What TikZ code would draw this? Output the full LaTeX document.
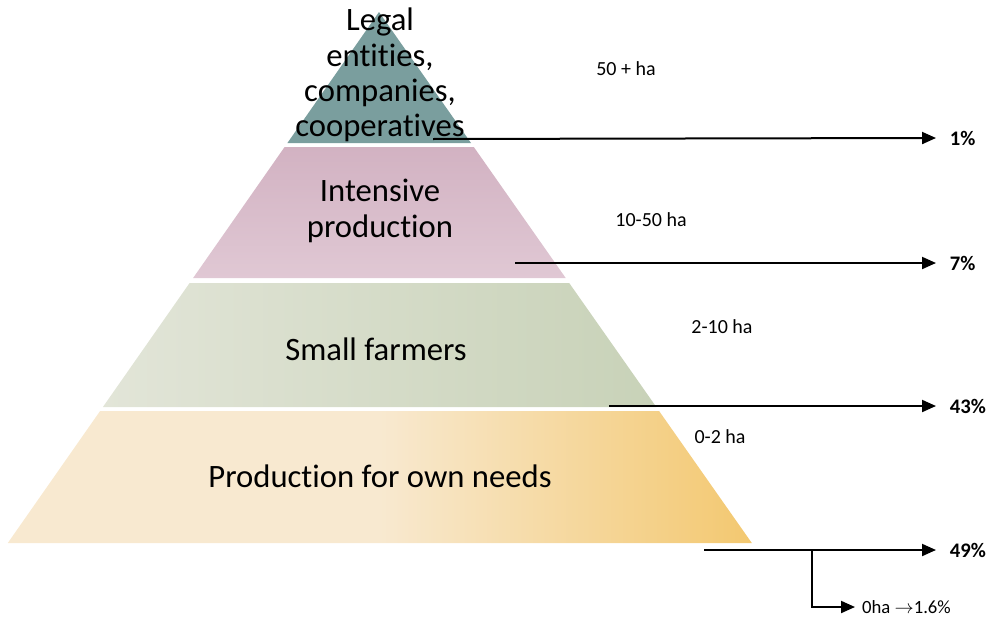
\documentclass[tikz,border=0pt]{standalone}
\usepackage{fontspec}
\setmainfont[Ligatures={NoCommon,NoContextual,NoRequired},Contextuals=NoAlternate]{Carlito}
\usetikzlibrary{arrows.meta}

\definecolor{topteal}{RGB}{122,158,158}
\definecolor{mauvelight}{RGB}{224,200,212}
\definecolor{mauvedeep}{RGB}{210,178,194}
\definecolor{sagelight}{RGB}{226,229,216}
\definecolor{sagedeep}{RGB}{200,210,184}
\definecolor{creamlight}{RGB}{248,233,208}
\definecolor{creamdeep}{RGB}{243,200,112}

\tikzset{every picture/.style={line width=0.75pt}}
\tikzset{
	layertext/.style={align=center, font=\fontsize{24.5}{26.5}\selectfont},
	rangetext/.style={font=\fontsize{15}{17}\selectfont},
	pcttext/.style={anchor=west, inner xsep=10pt, font=\fontsize{15.5}{17}\selectfont\bfseries},
	pctarrow/.style={line width=1.5pt, -{Triangle[length=10.5pt,width=9pt]}}
}

\begin{document}
\begin{tikzpicture}[x=0.75pt,y=0.75pt,yscale=-1,xscale=1]
	\useasboundingbox (0,0) rectangle (988,621);

	%Shape: Triangle [top layer]
	\fill [topteal] (379,12) -- (471,143) -- (287.4,143) -- cycle ;
	%Shape: Trapezoid [second layer]
	\shade [top color=mauvedeep, bottom color=mauvelight] (284.6,147) -- (473.8,147) -- (565.7,278) -- (193.1,278) -- cycle ;
	%Shape: Trapezoid [third layer]
	\shade [left color=sagelight, right color=sagedeep] (189.6,283) -- (569.2,283) -- (656.3,407) -- (102.9,407) -- cycle ;
	%Shape: Trapezoid [bottom layer]
	\shade [left color=creamlight, right color=creamdeep, middle color=creamlight] (100.1,411) -- (659.1,411) -- (751.8,543) -- (7.8,543) -- cycle ;

	% Text Node
	\node [layertext] (legal) at (380,75) {Legal\\entities,\\companies,\\cooperatives};
	% Text Node
	\node [layertext] (intensive) at (380,211) {Intensive\\production};
	% Text Node
	\node [layertext] (small) at (376,349) {Small farmers};
	% Text Node
	\node [layertext] (ownneeds) at (380,476) {Production for own needs};

	% Text Node
	\node [rangetext] (r1) at (626,69) {50 + ha};
	% Text Node
	\node [rangetext] (r2) at (651,220) {10-50 ha};
	% Text Node
	\node [rangetext] (r3) at (722,327) {2-10 ha};
	% Text Node
	\node [rangetext] (r4) at (720,437) {0-2 ha};

	% Text Node
	\node [pcttext] (p1) at (936,138) {1\%};
	% Text Node
	\node [pcttext] (p2) at (936,263) {7\%};
	% Text Node
	\node [pcttext] (p3) at (936,406) {43\%};
	% Text Node
	\node [pcttext] (p4) at (936,550) {49\%};
	% Text Node
	\node [anchor=west, inner xsep=5pt, font=\fontsize{14}{16}\selectfont] (zero) at (855,607) {0ha $\rightarrow$1.6\%};

	%Straight Lines
	\coordinate (s1) at (433,139);
	\coordinate (s2) at (515,263);
	\coordinate (s3) at (609,406);
	\coordinate (s4) at (704,550);
	\coordinate (b4) at (812,550);
	\draw [pctarrow] (s1) -- (p1.west);
	\draw [pctarrow] (s2) -- (p2.west);
	\draw [pctarrow] (s3) -- (p3.west);
	\draw [pctarrow] (s4) -- (p4.west);
	\draw [pctarrow] (b4) |- (zero.west);

\end{tikzpicture}
\end{document}
